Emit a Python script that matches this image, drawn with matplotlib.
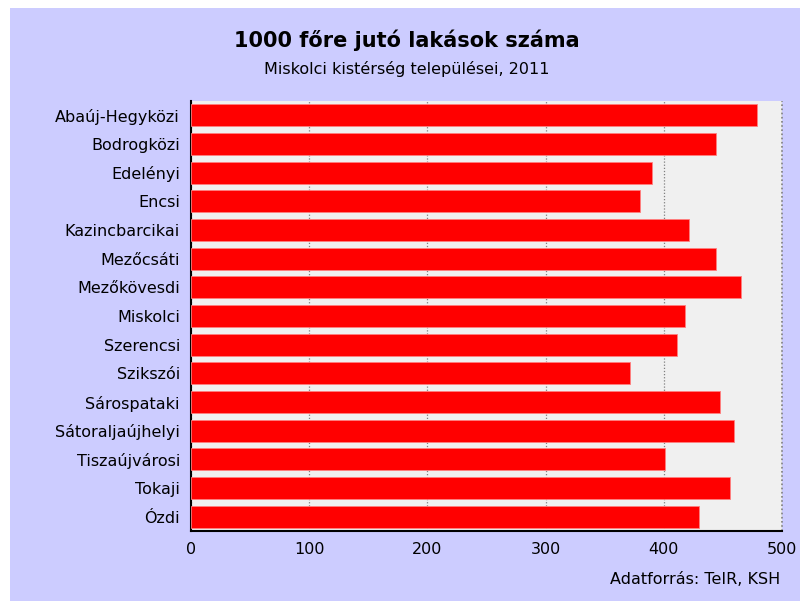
import matplotlib
matplotlib.use("Agg")
import matplotlib.pyplot as plt
from matplotlib.patches import Rectangle

# adatok
telepulesek = ['Abaúj-Hegyközi', 'Bodrogközi', 'Edelényi', 'Encsi', 'Kazincbarcikai',
               'Mezőcsáti', 'Mezőkövesdi', 'Miskolci', 'Szerencsi', 'Szikszói',
               'Sárospataki', 'Sátoraljaújhelyi', 'Tiszaújvárosi', 'Tokaji', 'Ózdi']
lakasok = [478.5, 444.5, 390.4, 380.2, 421.0,
           444.5, 464.9, 417.6, 410.8, 371.7,
           447.9, 459.8, 400.6, 456.4, 429.6]
x_tickek = [0, 100, 200, 300, 400, 500]

hatter = '#CCCCFF'
plt.rcParams['font.family'] = ['DejaVu Sans']

fig = plt.figure(figsize=(8, 6.01), dpi=100, facecolor='white')
# lila háttér, fent és balra egy keskeny fehér sávval
fig.patches.append(Rectangle((10/800, 0), 790/800, 593/601, transform=fig.transFigure,
                             facecolor=hatter, edgecolor='none', zorder=-10))

ax = fig.add_axes([191/800, 70/601, 591/800, 430/601])
ax.set_facecolor('#F0F0F0')

y = list(range(len(telepulesek)))
ax.barh(y, lakasok, height=0.76, color='#FF0000', edgecolor='#FF8080', linewidth=0.6, zorder=3)
ax.set_ylim(len(telepulesek) - 0.5, -0.5)
ax.set_yticks(y)
ax.set_yticklabels(telepulesek, fontsize=11.5)
ax.set_xlim(0, 500)
ax.set_xticks(x_tickek)
ax.set_xticklabels([str(v) for v in x_tickek], fontsize=11.5)

# pontozott rácsvonalak
ax.grid(axis='x', linestyle=(0, (1, 1.5)), color='#808080', linewidth=0.9, zorder=1)
ax.axvline(500, linestyle=(0, (1, 1.5)), color='#808080', linewidth=1.2, zorder=1, clip_on=False)
ax.tick_params(axis='both', length=0, pad=8)
ax.spines['top'].set_visible(False)
ax.spines['right'].set_visible(False)
ax.spines['left'].set_color('black')
ax.spines['bottom'].set_color('black')
ax.spines['left'].set_linewidth(1.5)
ax.spines['bottom'].set_linewidth(1.5)

fig.text(0.508, 1 - 40/601, '1000 főre jutó lakások száma', ha='center', va='center',
         fontsize=15, fontweight='bold')
fig.text(0.508, 1 - 69/601, 'Miskolci kistérség települései, 2011', ha='center', va='center',
         fontsize=11.5)
fig.text(780/800, 1 - 580/601, 'Adatforrás: TeIR, KSH', ha='right', va='center', fontsize=11.5)

fig.savefig('out.png', dpi=100, facecolor='white')
